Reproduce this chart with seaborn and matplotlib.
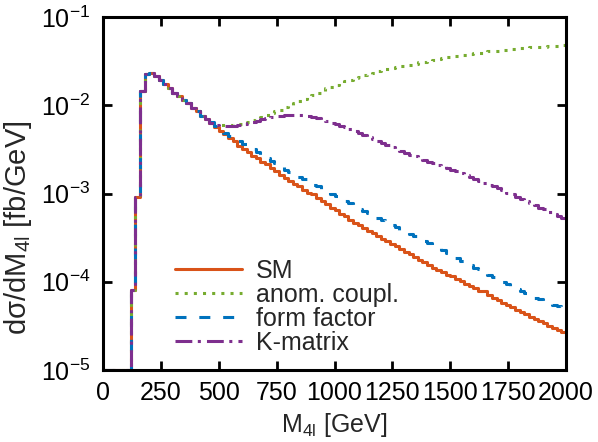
import numpy as np
import pandas as pd
import matplotlib
matplotlib.use("Agg")
import matplotlib.pyplot as plt
from matplotlib.lines import Line2D
from matplotlib.ticker import LogLocator, NullLocator
import seaborn as sns

# ---------------- data (log10 of dsigma/dM4l in fb/GeV, 20 GeV bins from 0 to 2000) -------------
bin_width = 20
bin_lo, bin_hi = 0, 2000

# bins 0..460 GeV, identical for all four predictions
shared_log10 = [-5, -5, -5, -5, -5, -5,
                -4.09, -3.04, -1.84, -1.645, -1.635, -1.67, -1.71, -1.76, -1.81,
                -1.86, -1.90, -1.94, -1.98, -2.03, -2.07, -2.12, -2.16]

# bins 460..2000 GeV
sm_tail_log10 = [
    -2.20, -2.25, -2.29, -2.33, -2.37, -2.41, -2.46, -2.50, -2.53, -2.57,
    -2.60, -2.64, -2.67, -2.71, -2.75, -2.79, -2.83, -2.86, -2.89, -2.92,
    -2.96, -2.99, -3.01, -3.05, -3.08, -3.12, -3.16, -3.19, -3.23, -3.26,
    -3.30, -3.33, -3.36, -3.39, -3.42, -3.45, -3.48, -3.51, -3.54, -3.57,
    -3.60, -3.63, -3.66, -3.69, -3.72, -3.75, -3.78, -3.81, -3.84, -3.87,
    -3.89, -3.92, -3.94, -3.97, -3.99, -4.02, -4.05, -4.07, -4.10, -4.10,
    -4.15, -4.18, -4.21, -4.24, -4.26, -4.29, -4.32, -4.34, -4.37, -4.40,
    -4.42, -4.45, -4.47, -4.50, -4.52, -4.55, -4.57]

anom_tail_log10 = [
    -2.20, -2.22, -2.225, -2.225, -2.22, -2.215, -2.21, -2.20, -2.19, -2.17,
    -2.155, -2.135, -2.115, -2.09, -2.07, -2.05, -2.025, -2.00, -1.98, -1.955,
    -1.93, -1.905, -1.88, -1.86, -1.835, -1.81, -1.79, -1.77, -1.75, -1.73,
    -1.71, -1.69, -1.675, -1.66, -1.645, -1.63, -1.615, -1.60, -1.59, -1.58,
    -1.57, -1.56, -1.55, -1.54, -1.53, -1.515, -1.505, -1.495, -1.485, -1.475,
    -1.465, -1.455, -1.45, -1.44, -1.43, -1.425, -1.42, -1.41, -1.405, -1.40,
    -1.39, -1.385, -1.38, -1.375, -1.37, -1.365, -1.36, -1.355, -1.35, -1.345,
    -1.34, -1.34, -1.335, -1.33, -1.33, -1.325, -1.32]

ff_tail_log10 = [
    -2.19, -2.23, -2.27, -2.31, -2.35, -2.38, -2.41, -2.44, -2.47, -2.50,
    -2.53, -2.57, -2.60, -2.63, -2.66, -2.70, -2.73, -2.76, -2.79, -2.81,
    -2.84, -2.87, -2.90, -2.92, -2.95, -2.98, -3.01, -3.03, -3.06, -3.09,
    -3.11, -3.14, -3.17, -3.20, -3.22, -3.25, -3.28, -3.30, -3.33, -3.36,
    -3.38, -3.41, -3.43, -3.46, -3.48, -3.51, -3.54, -3.56, -3.59, -3.61,
    -3.64, -3.67, -3.70, -3.73, -3.76, -3.78, -3.81, -3.84, -3.86, -3.89,
    -3.92, -3.95, -3.97, -4.00, -4.03, -4.05, -4.08, -4.10, -4.13, -4.15,
    -4.18, -4.20, -4.22, -4.24, -4.26, -4.28, -4.30]

kmat_tail_log10 = [
    -2.20, -2.22, -2.23, -2.235, -2.235, -2.23, -2.225, -2.21, -2.20, -2.19,
    -2.175, -2.16, -2.15, -2.135, -2.125, -2.12, -2.115, -2.11, -2.11, -2.11,
    -2.115, -2.125, -2.135, -2.15, -2.165, -2.18, -2.20, -2.215, -2.23, -2.25,
    -2.27, -2.29, -2.31, -2.335, -2.36, -2.38, -2.40, -2.425, -2.45, -2.47,
    -2.495, -2.52, -2.545, -2.56, -2.58, -2.60, -2.62, -2.64, -2.655, -2.675,
    -2.69, -2.71, -2.73, -2.75, -2.77, -2.79, -2.815, -2.84, -2.86, -2.88,
    -2.90, -2.92, -2.94, -2.965, -2.99, -3.01, -3.04, -3.065, -3.09, -3.11,
    -3.135, -3.16, -3.18, -3.205, -3.23, -3.255, -3.28]

labels = ["SM", "anom. coupl.", "form factor", "K-matrix"]
tails = [sm_tail_log10, anom_tail_log10, ff_tail_log10, kmat_tail_log10]
colors = ["#D95319", "#77AC30", "#0072BD", "#7E2F8E"]
dash_styles = ["", (1, 2), (3.6, 4.2), (5.5, 1.8, 1, 2)]

x_ticks = [0, 250, 500, 750, 1000, 1250, 1500, 1750, 2000]

# ---------------- build long-form table ----------------
edges = np.arange(bin_lo, bin_hi + bin_width, bin_width)
frames = []
for lab, tail in zip(labels, tails):
    vals = 10.0 ** np.array(shared_log10 + tail)
    ys = np.append(vals, vals[-1])  # repeat last value at right edge for step drawing
    frames.append(pd.DataFrame({"M": edges, "val": ys, "model": lab}))
df = pd.concat(frames, ignore_index=True)

# ---------------- style ----------------
sns.set_style("ticks")
plt.rcParams["font.family"] = ["Liberation Sans", "DejaVu Sans"]
plt.rcParams["mathtext.fontset"] = "custom"
plt.rcParams["mathtext.rm"] = "Liberation Sans"
plt.rcParams["mathtext.it"] = "Liberation Sans:italic"
plt.rcParams["mathtext.bf"] = "Liberation Sans:bold"
plt.rcParams["axes.unicode_minus"] = False
FS = 18

fig = plt.figure(figsize=(5.98, 4.42), dpi=100)
ax = fig.add_axes([103 / 598, 1 - 370 / 442, 463 / 598, 353 / 442])

palette = dict(zip(labels, colors))
dashes = dict(zip(labels, dash_styles))
LW = 2.2
sns.lineplot(data=df, x="M", y="val", hue="model", style="model",
             hue_order=labels, style_order=labels, palette=palette,
             dashes=dashes, drawstyle="steps-post", estimator=None,
             sort=True, linewidth=LW, legend=False, ax=ax)

ax.set_yscale("log")
ax.set_xlim(0, 2000)
ax.set_ylim(1e-5, 1e-1)
ax.set_xticks(x_ticks)
ax.set_xticklabels([str(t) for t in x_ticks])
ax.yaxis.set_major_locator(LogLocator(base=10, numticks=10))
ax.yaxis.set_minor_locator(NullLocator())
ax.xaxis.set_minor_locator(NullLocator())

for s in ax.spines.values():
    s.set_visible(True)
    s.set_linewidth(2.2)
    s.set_color("black")
ax.tick_params(axis="both", which="major", direction="in", length=6.5, width=2.0,
               top=True, right=True, labelsize=FS, colors="black")
ax.tick_params(axis="x", pad=8)
ax.tick_params(axis="y", pad=9)

ax.set_xlabel("M$_{\\rm 4l}$ [GeV]", fontsize=FS, labelpad=4)
ax.set_ylabel("d\u03c3/dM$_{\\rm 4l}$ [fb/GeV]", fontsize=21)
ax.yaxis.set_label_coords(-0.150, 0.402)

handles = []
for c, d in zip(colors, dash_styles):
    h = Line2D([0], [0], color=c, lw=LW)
    if d:
        h.set_dashes(d)
    handles.append(h)
ax.legend(handles, labels, loc="upper left", bbox_to_anchor=(0.1555, 0.315),
          frameon=False, fontsize=FS, handlelength=2.68, handletextpad=0.56,
          borderpad=0, borderaxespad=0, labelspacing=0.0)

fig.savefig("out.png", dpi=100)
